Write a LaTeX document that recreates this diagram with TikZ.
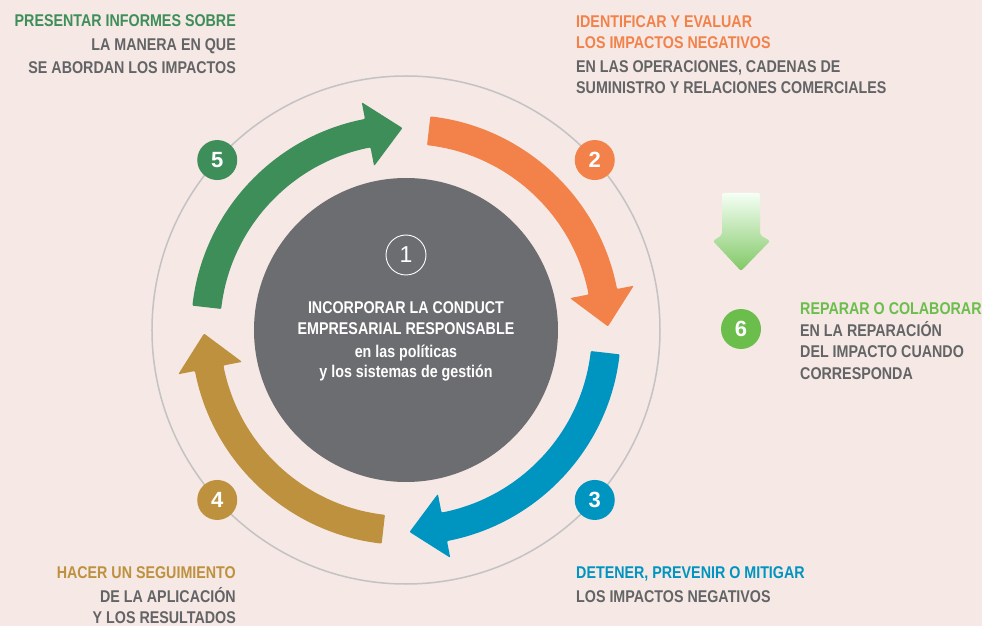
\documentclass[tikz,border=0pt]{standalone}
\usepackage{fontspec}
\setmainfont{Liberation Sans}
\newfontfamily\condfont[FakeStretch=0.84]{Liberation Sans}

\definecolor{bgpink}{HTML}{F5E8E5}
\definecolor{coregray}{HTML}{6C6D70}
\definecolor{ringgray}{HTML}{C4C2C2}
\definecolor{txtgray}{HTML}{636466}
\definecolor{orangeC}{HTML}{F3824A}
\definecolor{blueC}{HTML}{0094C0}
\definecolor{tanC}{HTML}{BE913E}
\definecolor{greenC}{HTML}{3E8E5A}
\definecolor{limeC}{HTML}{6BBE4B}

\begin{document}
\begin{tikzpicture}[x=1pt, y=1pt,
    txt/.style={font=\condfont\bfseries\fontsize{17}{20}\selectfont, inner sep=0pt, text=txtgray},
    numc/.style={circle, minimum size=40pt, inner sep=0pt, text=white,
        font=\bfseries\fontsize{22}{22}\selectfont}]

        % Background
        \fill[bgpink] (-406,-296) rectangle (576,330);
        \useasboundingbox (-406,-296) rectangle (576,330);

        % Outer ring
        \draw[ringgray, line width=1.5pt] (0,0) circle[radius=254];

        % Core
        \node[circle, fill=coregray, minimum size=304pt, inner sep=0pt] (core) at (0,0) {};
        \node[circle, draw=white, line width=0.9pt, minimum size=40pt, inner sep=0pt,
            text=white, font=\fontsize{23}{23}\selectfont] (n1) at (0,75) {1};
        \node[txt, text=white, anchor=base] (c1) at (0,16) {INCORPORAR LA CONDUCT};
        \node[txt, text=white, anchor=base] (c2) at (0,-5) {EMPRESARIAL RESPONSABLE};
        \node[txt, text=white, anchor=base] (c3) at (0,-28) {en las políticas};
        \node[txt, text=white, anchor=base] (c4) at (0,-48) {y los sistemas de gestión};

        % Curved arrows
        \foreach \rot/\col in {0/orangeC, -90/blueC, -180/tanC, 90/greenC} {
            \fill[fill=\col, rotate=\rot, rounded corners=1pt]
                (83.5:215) arc[start angle=83.5, end angle=11, radius=215]
                -- (11:232) -- (1:202) -- (11:167) -- (11:186)
                arc[start angle=11, end angle=83.5, radius=186] -- cycle;
        }

        % Step numbers
        \node[numc, fill=orangeC] (n2) at (42:254) {2};
        \node[numc, fill=blueC] (n3) at (-42:254) {3};
        \node[numc, fill=tanC] (n4) at (-138:254) {4};
        \node[numc, fill=greenC] (n5) at (138:254) {5};

        % Step 5 text
        \node[txt, text=greenC, anchor=base east] (t5a) at (-170,303) {PRESENTAR INFORMES SOBRE};
        \node[txt, anchor=base east] (t5b) at (-170,279) {LA MANERA EN QUE};
        \node[txt, anchor=base east] (t5c) at (-170,256) {SE ABORDAN LOS IMPACTOS};

        % Step 2 text
        \node[txt, text=orangeC, anchor=base west] (t2a) at (170,302) {IDENTIFICAR Y EVALUAR};
        \node[txt, text=orangeC, anchor=base west] (t2b) at (170,281) {LOS IMPACTOS NEGATIVOS};
        \node[txt, anchor=base west] (t2c) at (170,257) {EN LAS OPERACIONES, CADENAS DE};
        \node[txt, anchor=base west] (t2d) at (170,236) {SUMINISTRO Y RELACIONES COMERCIALES};

        % Step 6
        \shade[top color=green!4!white, bottom color=limeC!85!white, rounded corners=2pt]
            (316,137) -- (316,95) -- (307,89) -- (335,59) -- (364,89) -- (354,95) -- (354,137) -- cycle;
        \node[numc, fill=limeC] (n6) at (335,1) {6};
        \node[txt, text=limeC, anchor=base west] (t6a) at (394,15) {REPARAR O COLABORAR};
        \node[txt, anchor=base west] (t6b) at (394,-7) {EN LA REPARACIÓN};
        \node[txt, anchor=base west] (t6c) at (394,-28) {DEL IMPACTO CUANDO};
        \node[txt, anchor=base west] (t6d) at (394,-49) {CORRESPONDA};

        % Step 4 text
        \node[txt, text=tanC, anchor=base east] (t4a) at (-170,-248) {HACER UN SEGUIMIENTO};
        \node[txt, anchor=base east] (t4b) at (-170,-272) {DE LA APLICACIÓN};
        \node[txt, anchor=base east] (t4c) at (-170,-293) {Y LOS RESULTADOS};

        % Step 3 text
        \node[txt, text=blueC, anchor=base west] (t3a) at (170,-248) {DETENER, PREVENIR O MITIGAR};
        \node[txt, anchor=base west] (t3b) at (170,-272) {LOS IMPACTOS NEGATIVOS};
    \end{tikzpicture}
\end{document}
